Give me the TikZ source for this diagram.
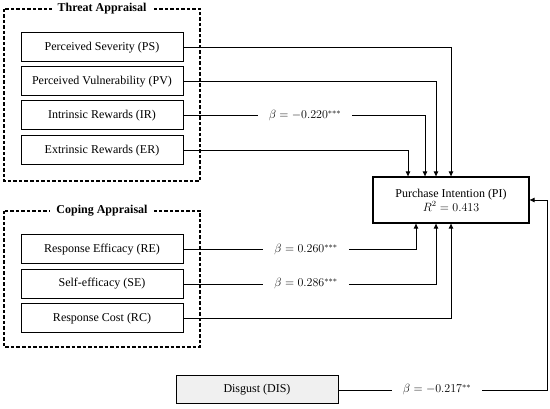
\documentclass[tikz,border=0pt]{standalone}
\usepackage{fontspec}
\setmainfont{Liberation Serif}
\usetikzlibrary{arrows.meta}
\begin{document}
\begin{tikzpicture}[x=1pt,y=-1pt,
  varbox/.style={draw, line width=1pt, minimum width=162pt, minimum height=29pt, inner sep=0pt, font=\fontsize{12}{14}\selectfont},
  groupbox/.style={draw, line width=1.2pt, dash pattern=on 3.5pt off 2pt},
  grouptitle/.style={fill=white, inner xsep=6pt, font=\fontsize{12}{14}\selectfont\bfseries},
  coef/.style={inner xsep=11pt, font=\fontsize{12}{14}\selectfont},
  link/.style={line width=0.9pt},
  arr/.style={link, -{Triangle[length=5pt,width=4.5pt]}}]
  \useasboundingbox (0,0) rectangle (550,409);
  % groups
  \draw[groupbox] (4,9) rectangle (200,181);
  \node[grouptitle] (TA) at (102,9) {Threat Appraisal};
  \draw[groupbox] (4,211) rectangle (200,347);
  \node[grouptitle] (CA) at (102,211) {Coping Appraisal};
  % variables
  \node[varbox] (PS) at (102,47.5) {Perceived Severity (PS)};
  \node[varbox] (PV) at (102,81.5) {Perceived Vulnerability (PV)};
  \node[varbox] (IR) at (102,115.5) {Intrinsic Rewards (IR)};
  \node[varbox] (ER) at (102,150.5) {Extrinsic Rewards (ER)};
  \node[varbox] (RE) at (102,249.5) {Response Efficacy (RE)};
  \node[varbox] (SE) at (102,284) {Self-efficacy (SE)};
  \node[varbox] (RC) at (102,318.5) {Response Cost (RC)};
  \node[varbox, fill=gray!12, minimum height=28pt] (DIS) at (257,390) {Disgust (DIS)};
  \node[draw, line width=1.3pt, minimum width=156pt, minimum height=46pt, align=center,
        font=\fontsize{12}{14}\selectfont] (PI) at (451,200) {Purchase Intention (PI)\\$R^2 = 0.413$};
  % coefficients
  \node[coef] (bIR) at (305,115.5) {$\beta = -0.220^{***}$};
  \node[coef] (bRE) at (306,249.5) {$\beta = 0.260^{***}$};
  \node[coef] (bSE) at (306,284) {$\beta = 0.286^{***}$};
  \node[coef] (bDIS) at (437,390) {$\beta = -0.217^{**}$};
  \coordinate (turn) at (547,390);
  % paths
  \draw[arr] (PS.east) -| (PI.north);
  \draw[arr] (PV.east) -| ([xshift=-15pt]PI.north);
  \draw[link] (IR.east) -- (bIR.west);
  \draw[arr] (bIR.east) -| ([xshift=-26pt]PI.north);
  \draw[arr] (ER.east) -| ([xshift=-43pt]PI.north);
  \draw[link] (RE.east) -- (bRE.west);
  \draw[arr] (bRE.east) -| ([xshift=-35pt]PI.south);
  \draw[link] (SE.east) -- (bSE.west);
  \draw[arr] (bSE.east) -| ([xshift=-15pt]PI.south);
  \draw[arr] (RC.east) -| (PI.south);
  \draw[link] (DIS.east) -- (bDIS.west);
  \draw[arr] (bDIS.east) -- (turn) |- (PI.east);
\end{tikzpicture}
\end{document}
